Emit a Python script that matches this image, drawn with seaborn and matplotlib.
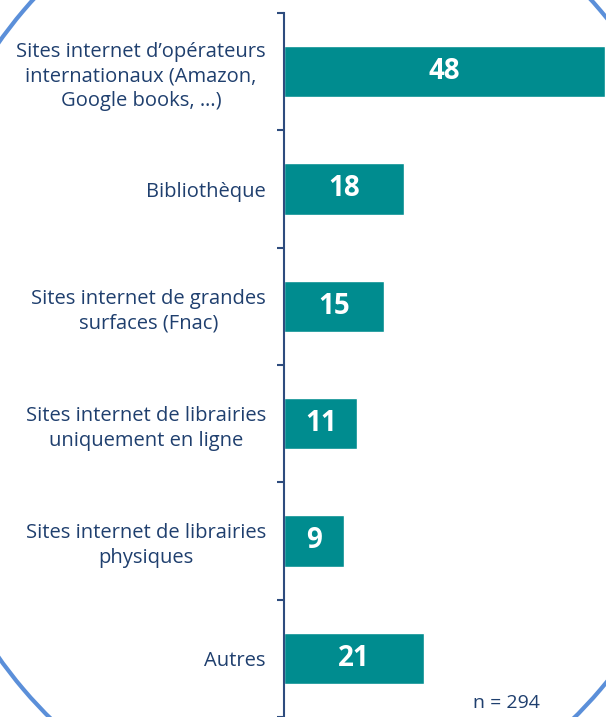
import matplotlib
matplotlib.use("Agg")
import matplotlib.pyplot as plt
from matplotlib.patches import Ellipse
import seaborn as sns
import pandas as pd

categories = [
    "Sites internet d\u2019opérateurs\ninternationaux (Amazon,\nGoogle books, \u2026)",
    "Bibliothèque",
    "Sites internet de grandes\nsurfaces (Fnac)",
    "Sites internet de librairies\nuniquement en ligne",
    "Sites internet de librairies\nphysiques",
    "Autres",
]
values = [48, 18, 15, 11, 9, 21]
sample_note = "n = 294"

teal = "#008C8F"
navy = "#1F3F6E"
border_blue = "#5B8FD9"

sns.set_theme(style="white")
plt.rcParams["font.family"] = ["Open Sans", "DejaVu Sans"]

df = pd.DataFrame({"cat": categories, "val": values})

fig = plt.figure(figsize=(6.06, 7.17), dpi=100)
ax = fig.add_axes([284 / 606, 0, 1 - 284 / 606, 1 - 13 / 717])
ax.patch.set_alpha(0)

sns.barplot(data=df, x="val", y="cat", color=teal, saturation=1,
            width=0.44, ax=ax, orient="h")

ax.set_xlim(0, 48.2)
ax.set_ylim(len(categories) - 0.5, -0.5)
ax.set_xlabel("")
ax.set_ylabel("")
ax.set_xticks([])

for side in ["top", "right", "bottom"]:
    ax.spines[side].set_visible(False)
ax.spines["left"].set_color("#2E4C7E")
ax.spines["left"].set_linewidth(1.5)

# tick marks sit on the boundaries between categories
ax.set_yticks([i + 0.5 for i in range(-1, len(categories))], minor=True)
ax.tick_params(axis="y", which="minor", length=5, width=1.5, color="#2E4C7E", left=True)
ax.tick_params(axis="y", which="major", length=0, pad=13, labelsize=14.5, labelcolor=navy)
for lbl in ax.get_yticklabels():
    lbl.set_multialignment("center")
    lbl.set_linespacing(1.3)

ax.bar_label(ax.containers[0], label_type="center", color="white",
             fontweight="bold", fontsize=20)

fig.text(506 / 606, 1 - 703 / 717, sample_note, ha="center", va="center",
         fontsize=14, color=navy)

fig.add_artist(Ellipse((312 / 606, 367 / 717), 816 / 606, 960 / 717,
                       transform=fig.transFigure, fill=False,
                       edgecolor=border_blue, linewidth=3, zorder=5))

fig.savefig("out.png", dpi=100)
